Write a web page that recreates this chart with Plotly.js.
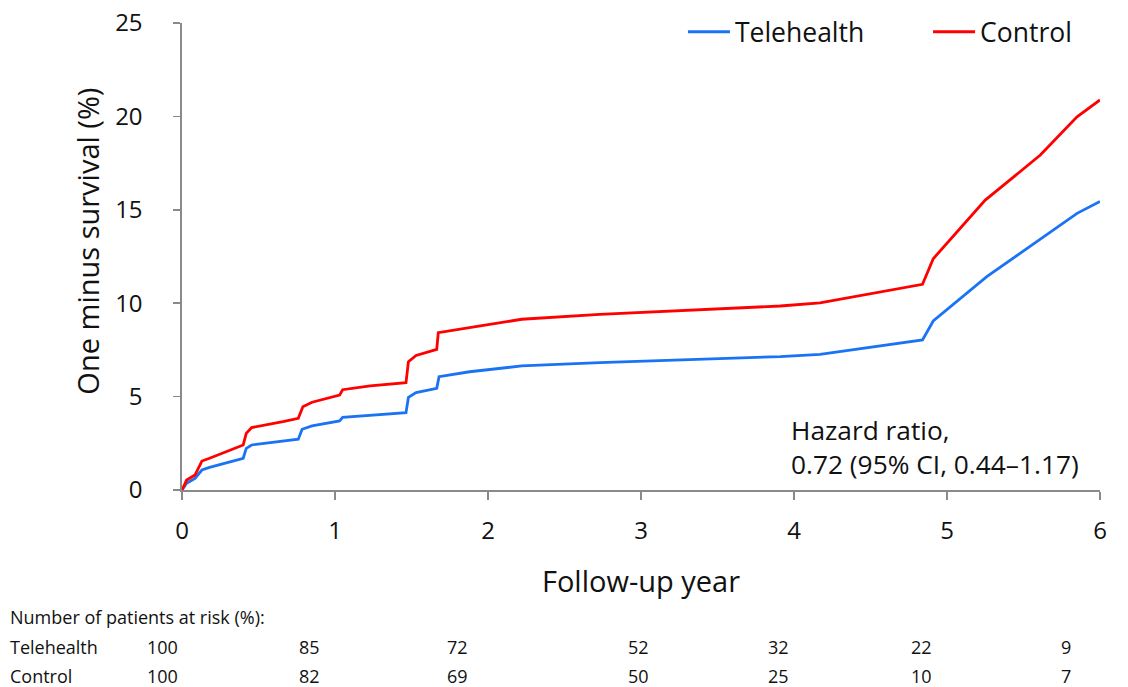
<!DOCTYPE html>
<html>
<head>
<meta charset="utf-8">
<script src="https://cdn.plot.ly/plotly-3.0.1.min.js"></script>
<style>html,body{margin:0;padding:0;background:#fff;}#chart{width:1128px;height:687px;}</style>
</head>
<body>
<div id="chart"></div>
<script>
// ---- data ----
const teleTime = [0, 0.03, 0.085, 0.13, 0.18, 0.40, 0.42, 0.455, 0.76, 0.785, 0.85, 1.03, 1.05, 1.23, 1.464, 1.48, 1.53, 1.665, 1.68, 1.88, 2.22, 2.73, 3.91, 4.17, 4.84, 4.91, 5.26, 5.85, 6.0];
const teleRisk = [0, 0.36, 0.62, 1.07, 1.21, 1.70, 2.23, 2.41, 2.72, 3.25, 3.43, 3.70, 3.89, 4.00, 4.14, 4.96, 5.21, 5.44, 6.07, 6.33, 6.64, 6.82, 7.14, 7.26, 8.03, 9.05, 11.42, 14.81, 15.45];
const controlTime = [0, 0.03, 0.085, 0.13, 0.18, 0.40, 0.42, 0.455, 0.66, 0.76, 0.79, 0.85, 1.03, 1.05, 1.23, 1.464, 1.48, 1.53, 1.665, 1.675, 1.95, 2.22, 2.73, 3.91, 4.17, 4.84, 4.91, 5.25, 5.61, 5.85, 6.0];
const controlRisk = [0, 0.53, 0.80, 1.55, 1.70, 2.41, 3.03, 3.34, 3.66, 3.84, 4.46, 4.70, 5.08, 5.37, 5.57, 5.75, 6.87, 7.20, 7.53, 8.42, 8.78, 9.14, 9.40, 9.85, 10.02, 11.01, 12.38, 15.52, 17.93, 19.98, 20.88];
const years = [0, 1, 2, 3, 4, 5, 6];
const atRiskTele = [100, 85, 72, 52, 32, 22, 9];
const atRiskControl = [100, 82, 69, 50, 25, 10, 7];
const seriesNames = ['Telehealth', 'Control'];
const yTicks = [0, 5, 10, 15, 20, 25];

// ---- layout constants ----
const FONT = '"Open Sans", "Noto Sans", sans-serif';
const colShift = [-20, -26, -31, -3, -16, -26, -34];
const rowY = [-0.336, -0.398];
const axisGray = '#8a8a8a';
const TABLE_SIZE = 18;

const traces = [
  {x: teleTime, y: teleRisk, name: seriesNames[0], mode: 'lines', line: {color: '#1a73f5', width: 2.8}, legend: 'legend'},
  {x: controlTime, y: controlRisk, name: seriesNames[1], mode: 'lines', line: {color: '#ff0000', width: 2.8}, legend: 'legend2'}
];

const annotations = [
  {xref: 'paper', yref: 'paper', x: 0.6612, y: 0.171, xanchor: 'left', yanchor: 'top', align: 'left',
   showarrow: false, text: 'Hazard ratio,<br>0.72 (95% CI, 0.44–1.17)', font: {family: FONT, size: 26.3, color: '#111'}},
  {xref: 'paper', yref: 'paper', x: -0.1029, y: 0.533, xanchor: 'center', yanchor: 'middle', textangle: -90,
   showarrow: false, text: 'One minus survival (%)', font: {family: FONT, size: 29, color: '#111'}},
  {xref: 'paper', yref: 'paper', x: -0.1896, y: -0.272, xanchor: 'left', yanchor: 'middle', showarrow: false,
   text: 'Number of patients at risk (%):', font: {family: FONT, size: TABLE_SIZE, color: '#111'}}
];
const rows = [atRiskTele, atRiskControl];
rows.forEach((vals, r) => {
  annotations.push({xref: 'paper', yref: 'paper', x: -0.1896, y: rowY[r], xanchor: 'left', yanchor: 'middle',
    showarrow: false, text: seriesNames[r], font: {family: FONT, size: TABLE_SIZE, color: '#111'}});
  vals.forEach((v, i) => {
    annotations.push({xref: 'x', yref: 'paper', x: years[i], y: rowY[r], xanchor: 'center', yanchor: 'middle',
      xshift: colShift[i], showarrow: false, text: String(v), font: {family: FONT, size: TABLE_SIZE, color: '#111'}});
  });
});

const legendBase = {orientation: 'h', xanchor: 'left', y: 0.9807, yanchor: 'middle', itemwidth: 42,
  font: {family: FONT, size: 26.5, color: '#111'}, bgcolor: 'rgba(0,0,0,0)'};

const layout = {
  width: 1128, height: 687, autosize: false,
  margin: {l: 182, r: 28, t: 23, b: 197, pad: 0, autoexpand: false},
  paper_bgcolor: '#fff', plot_bgcolor: '#fff',
  font: {family: FONT, color: '#111'},
  showlegend: true,
  legend: Object.assign({}, legendBase, {x: 0.5457}),
  legend2: Object.assign({}, legendBase, {x: 0.8127}),
  xaxis: {range: [0, 6], tickvals: years, ticktext: years.map(String), showgrid: false, zeroline: false,
    showline: true, linecolor: axisGray, linewidth: 1.6, ticks: 'outside', ticklen: 8, tickwidth: 1.6, tickcolor: axisGray,
    tickfont: {family: FONT, size: 24, color: '#111'}, ticklabelstandoff: 11,
    title: {text: 'Follow-up year', font: {family: FONT, size: 29, color: '#111'}, standoff: 26}},
  yaxis: {range: [0, 25], tickvals: yTicks, showgrid: false, zeroline: false,
    showline: true, linecolor: axisGray, linewidth: 1.6, ticks: 'outside', ticklen: 7, tickwidth: 1.6, tickcolor: axisGray,
    tickfont: {family: FONT, size: 24, color: '#111'}, ticklabelstandoff: 26},
  annotations: annotations
};

Plotly.newPlot('chart', traces, layout, {displayModeBar: false, staticPlot: true});
</script>
</body>
</html>
